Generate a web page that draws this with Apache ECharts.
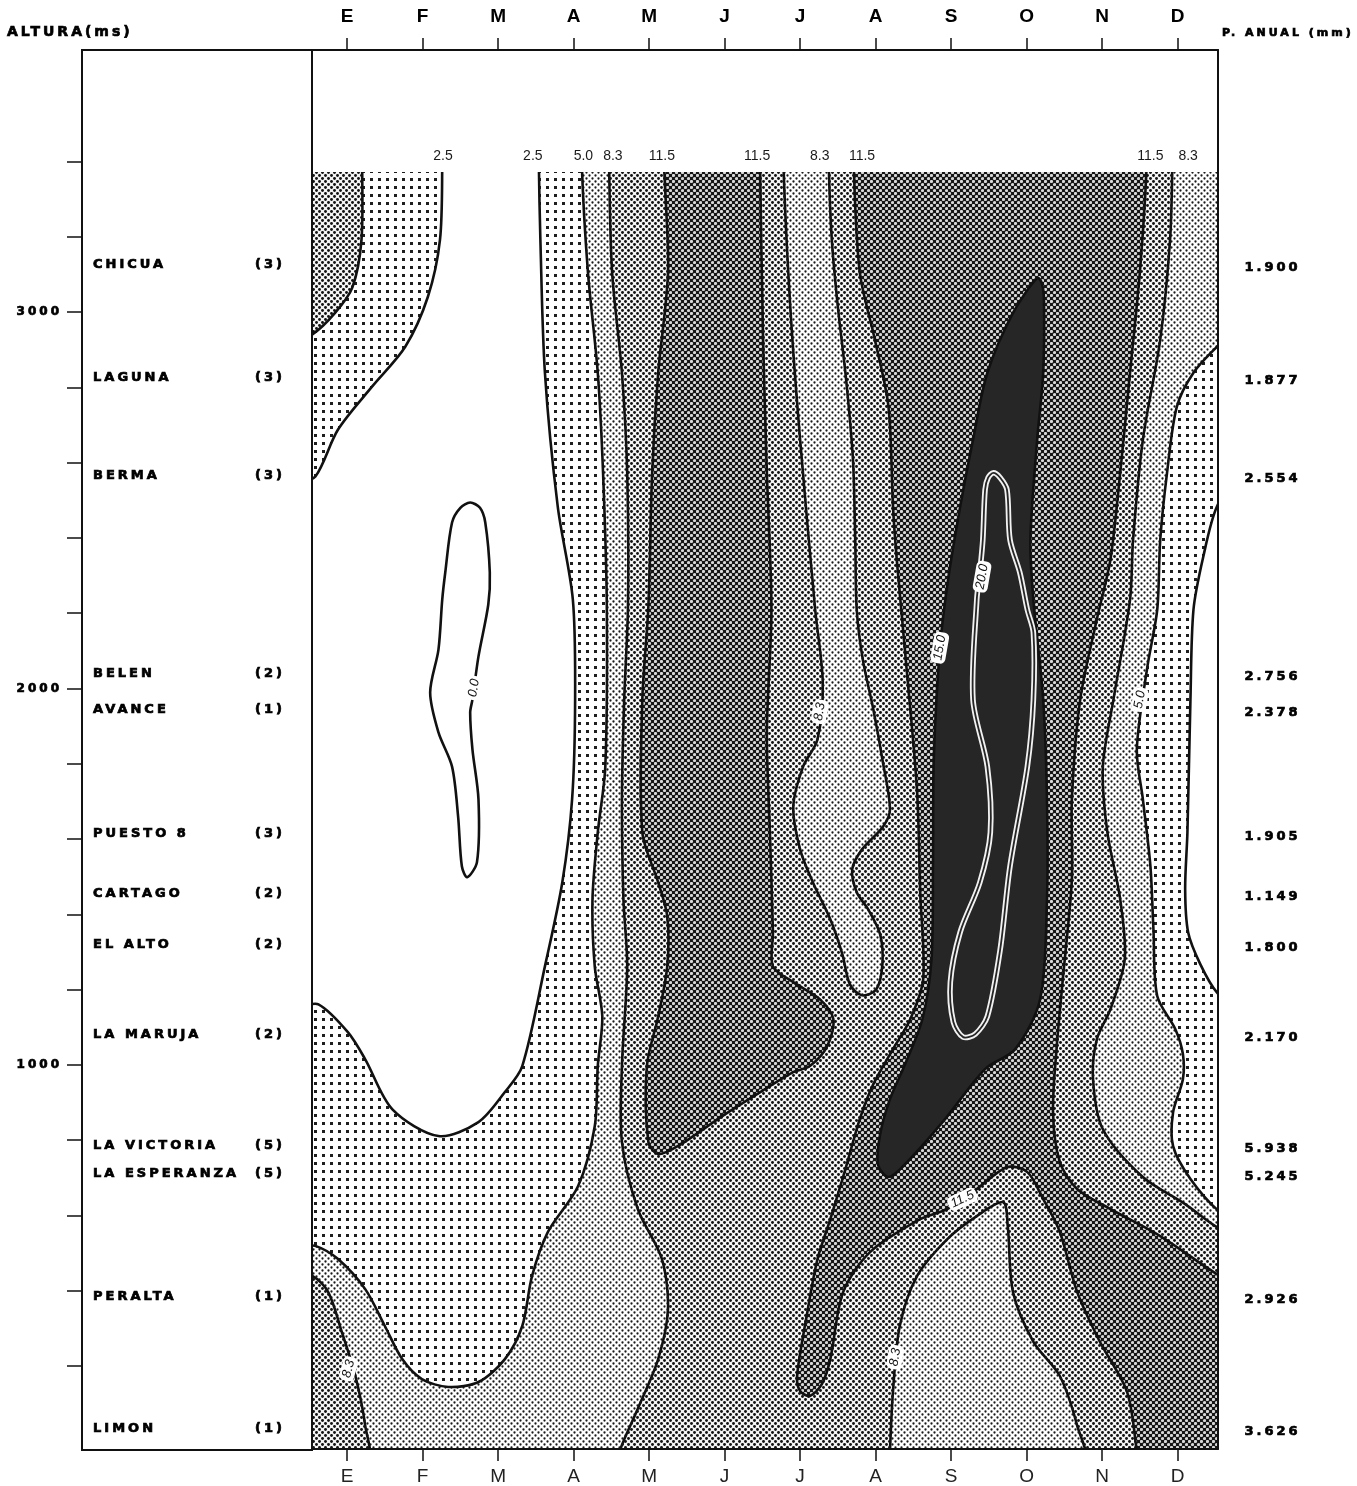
<!DOCTYPE html>
<html>
<head>
<meta charset="utf-8">
<title>Precipitación media mensual por altura</title>
<script src="https://cdn.jsdelivr.net/npm/echarts@6.0.0/dist/echarts.min.js"></script>
<style>
	html, body { margin: 0; padding: 0; background: #ffffff; }
	#chart { width: 1357px; height: 1486px; }
</style>
</head>
<body>
<div id="chart"></div>
<script>
//Axis labels
let months = ['E', 'F', 'M', 'A', 'M', 'J', 'J', 'A', 'S', 'O', 'N', 'D'];
let monthTicks = [0, 1, 2, 3, 4, 5, 6, 7, 8, 9, 10, 11];
let altitudeTicks = [200, 400, 600, 800, 1000, 1200, 1400, 1600, 1800, 2000, 2200, 2400, 2600, 2800, 3000, 3200, 3400];
let altitudeLabels = [1000, 2000, 3000];

//Stations (left panel) and annual rainfall (right column)
let stations = ['CHICUA', 'LAGUNA', 'BERMA', 'BELEN', 'AVANCE', 'PUESTO 8', 'CARTAGO', 'EL ALTO', 'LA MARUJA', 'LA VICTORIA', 'LA ESPERANZA', 'PERALTA', 'LIMON'];
let stationCounts = ['(3)', '(3)', '(3)', '(2)', '(1)', '(3)', '(2)', '(2)', '(2)', '(5)', '(5)', '(1)', '(1)'];
let stationAlt = [3125, 2825, 2565, 2040, 1945, 1615, 1455, 1320, 1080, 785, 710, 385, 35];
let annualRain = ['1.900', '1.877', '2.554', '2.756', '2.378', '1.905', '1.149', '1.800', '2.170', '5.938', '5.245', '2.926', '3.626'];

//Isoline values written along the top of the field
let topLabelText = ['2.5', '2.5', '5.0', '8.3', '11.5', '11.5', '8.3', '11.5', '11.5', '8.3'];
let topLabelMonth = [1.27, 2.46, 3.13, 3.52, 4.17, 5.43, 6.26, 6.82, 10.64, 11.14];
let topLabelAlt = 3414;

//Isoline values written inside the field
let contourText = ['0.0', '8.3', '15.0', '20.0', '5.0', '11.5', '8.3', '8.3'];
let contourMonth = [1.68, 6.26, 7.85, 8.41, 10.50, 8.15, 7.26, 0.02];
let contourAlt = [2000, 1937, 2107, 2296, 1969, 641, 221, 190];
let contourAngle = [80, 80, 80, 80, 80, 25, 80, 75];

//Top of the measured field (m)
let fieldTop = 3372;

//Isoline regions, [month, altitude] pairs
let field = [[-0.7, -60], [11.8, -60], [11.8, 3650], [-0.7, 3650]];
let band25Left = [[-0.7, 3650], [3.11, 3650], [3.11, 3390], [3.19, 3105], [3.32, 2838], [3.39, 2572], [3.44, 2216], [3.42, 1791], [3.32, 1616], [3.25, 1438], [3.28, 1260], [3.38, 1127], [3.32, 995], [3.28, 835], [3.06, 676], [2.66, 554], [2.45, 437], [2.32, 304], [2.09, 216], [1.74, 155], [1.34, 142], [0.99, 163], [0.73, 216], [0.50, 304], [0.24, 402], [-0.12, 482], [-0.42, 517], [-0.7, 522]];
let dryLeft = [[1.26, 3650], [1.26, 3390], [1.23, 3191], [1.07, 3040], [0.77, 2907], [0.33, 2801], [-0.12, 2687], [-0.42, 2562], [-0.7, 2530], [-0.7, 1160], [-0.38, 1159], [0.01, 1085], [0.24, 1013], [0.60, 880], [1.21, 809], [1.74, 846], [2.09, 926], [2.32, 995], [2.62, 1260], [2.85, 1483], [2.98, 1704], [3.02, 1969], [2.99, 2235], [2.79, 2482], [2.62, 2838], [2.56, 3191], [2.54, 3390], [2.53, 3650]];
let cornerTopLeft = [[-0.7, 3650], [0.20, 3650], [0.20, 3390], [0.19, 3190], [0.07, 3065], [-0.16, 2997], [-0.46, 2940], [-0.7, 2925]];
let band25Right = [[11.8, 2960], [11.52, 2907], [11.21, 2838], [10.99, 2748], [10.86, 2572], [10.77, 2394], [10.73, 2208], [10.60, 2057], [10.46, 1837], [10.54, 1704], [10.64, 1526], [10.68, 1358], [10.73, 1181], [10.97, 1093], [11.07, 1027], [11.07, 960], [10.94, 872], [10.94, 782], [11.17, 695], [11.56, 607], [11.8, 590]];
let dryRight = [[11.8, 2560], [11.52, 2482], [11.34, 2349], [11.21, 2208], [11.17, 1969], [11.13, 1616], [11.10, 1465], [11.14, 1350], [11.30, 1266], [11.52, 1191], [11.8, 1150]];
let band83 = [[3.46, 3650], [3.47, 3390], [3.51, 3105], [3.64, 2838], [3.71, 2572], [3.72, 2216], [3.67, 1969], [3.64, 1704], [3.66, 1438], [3.71, 1260], [3.64, 995], [3.64, 793], [3.85, 615], [4.17, 482], [4.25, 349], [4.12, 216], [3.85, 84], [3.62, -23], [3.60, -60], [11.8, -60], [11.8, 550], [11.56, 562], [11.10, 628], [10.54, 700], [10.01, 827], [9.88, 960], [9.93, 1066], [10.11, 1146], [10.30, 1279], [10.24, 1438], [10.07, 1616], [10.01, 1791], [10.15, 1969], [10.37, 2235], [10.41, 2394], [10.54, 2660], [10.77, 2926], [10.90, 3191], [10.93, 3390], [10.94, 3650]];
let cornerBottomLeft = [[-0.7, 440], [-0.46, 437], [-0.25, 394], [-0.07, 288], [0.11, 171], [0.24, 39], [0.27, -60], [-0.7, -60]];
let tongue = [[5.77, 3650], [5.78, 3390], [5.87, 3013], [6.00, 2660], [6.20, 2208], [6.30, 2015], [6.23, 1863], [6.04, 1791], [5.91, 1685], [6.00, 1571], [6.17, 1483], [6.40, 1385], [6.56, 1292], [6.66, 1212], [6.82, 1183], [7.01, 1199], [7.09, 1266], [7.06, 1345], [6.90, 1412], [6.75, 1457], [6.69, 1518], [6.82, 1571], [7.10, 1632], [7.19, 1677], [7.09, 1810], [6.97, 1943], [6.83, 2076], [6.75, 2208], [6.73, 2394], [6.70, 2607], [6.61, 2819], [6.50, 3013], [6.42, 3191], [6.38, 3390], [6.37, 3650]];
let wetLeft = [[4.19, 3650], [4.20, 3390], [4.25, 3105], [4.12, 2838], [4.04, 2572], [3.99, 2216], [3.91, 1969], [3.91, 1616], [4.12, 1483], [4.24, 1393], [4.24, 1260], [4.12, 1127], [3.97, 995], [3.99, 793], [4.12, 761], [4.38, 782], [4.97, 862], [5.54, 934], [5.91, 979], [6.13, 995], [6.36, 1048], [6.44, 1120], [6.26, 1173], [5.91, 1218], [5.64, 1260], [5.64, 1351], [5.60, 1616], [5.56, 1882], [5.62, 2208], [5.56, 2572], [5.51, 2926], [5.47, 3390], [5.46, 3650]];
let wetMain = [[6.70, 3650], [6.71, 3390], [6.79, 3105], [6.99, 2926], [7.17, 2748], [7.23, 2482], [7.28, 2341], [7.42, 2030], [7.55, 1722], [7.59, 1457], [7.63, 1226], [7.46, 1120], [7.23, 1040], [6.97, 947], [6.79, 854], [6.60, 721], [6.40, 588], [6.23, 482], [6.08, 323], [5.96, 171], [6.00, 131], [6.13, 118], [6.29, 150], [6.40, 216], [6.57, 394], [6.93, 501], [7.59, 588], [7.95, 615], [8.34, 668], [8.74, 726], [9.01, 713], [9.22, 641], [9.44, 554], [9.67, 394], [9.97, 262], [10.33, 129], [10.46, -30], [10.47, -60], [11.8, -60], [11.8, 420], [11.56, 437], [10.77, 543], [10.11, 615], [9.67, 668], [9.44, 740], [9.35, 872], [9.40, 1048], [9.48, 1226], [9.60, 1491], [9.60, 1704], [9.71, 1969], [9.93, 2182], [10.11, 2341], [10.24, 2572], [10.37, 2838], [10.50, 3105], [10.59, 3390], [10.60, 3650]];
let mountain = [[7.19, -60], [7.19, -30], [7.23, 129], [7.32, 304], [7.55, 437], [7.95, 535], [8.34, 596], [8.69, 633], [8.75, 570], [8.82, 394], [9.09, 262], [9.44, 171], [9.67, 39], [9.75, -60]];
let wettest = [[9.14, 3090], [8.82, 2997], [8.48, 2838], [8.29, 2660], [8.12, 2482], [7.96, 2288], [7.85, 2102], [7.77, 1810], [7.76, 1544], [7.74, 1279], [7.62, 1120], [7.39, 1000], [7.19, 907], [7.06, 814], [7.03, 734], [7.17, 700], [7.39, 734], [7.92, 854], [8.45, 987], [8.85, 1040], [9.18, 1173], [9.27, 1438], [9.27, 1704], [9.22, 1969], [9.09, 2235], [9.05, 2394], [9.14, 2660], [9.22, 2838], [9.23, 3032], [9.20, 3077]];
let iso20 = [[8.56, 2572], [8.65, 2559], [8.74, 2527], [8.78, 2394], [8.91, 2307], [9.01, 2208], [9.09, 2147], [9.09, 1969], [9.01, 1791], [8.78, 1526], [8.65, 1305], [8.48, 1127], [8.32, 1080], [8.16, 1072], [8.03, 1112], [7.99, 1218], [8.12, 1351], [8.38, 1483], [8.52, 1616], [8.48, 1791], [8.29, 1969], [8.34, 2235], [8.38, 2307], [8.42, 2394], [8.45, 2527], [8.49, 2559]];
let iso0 = [[1.63, 2493], [1.76, 2479], [1.83, 2440], [1.89, 2307], [1.87, 2222], [1.74, 2084], [1.66, 1969], [1.63, 1935], [1.66, 1837], [1.74, 1704], [1.72, 1537], [1.59, 1497], [1.52, 1526], [1.47, 1659], [1.39, 1791], [1.21, 1882], [1.10, 1988], [1.21, 2102], [1.26, 2235], [1.30, 2307], [1.39, 2440], [1.50, 2479]];
let aboveField = [[-0.7, fieldTop], [11.8, fieldTop], [11.8, 3800], [-0.7, 3800]];


//Spaced lettering for the DejaVu texts (station columns and headers)
let baseFillText = CanvasRenderingContext2D.prototype.fillText;
let baseStrokeText = CanvasRenderingContext2D.prototype.strokeText;
let baseMeasureText = CanvasRenderingContext2D.prototype.measureText;
function spacingFor(font) {
	return font && font.indexOf('DejaVu') >= 0 ? '3px' : '0px';
}
CanvasRenderingContext2D.prototype.fillText = function (text, x, y, maxWidth) {
	this.letterSpacing = spacingFor(this.font);
	if (maxWidth === undefined) {
		return baseFillText.call(this, text, x, y);
	}
	return baseFillText.call(this, text, x, y, maxWidth);
};
CanvasRenderingContext2D.prototype.strokeText = function (text, x, y, maxWidth) {
	this.letterSpacing = spacingFor(this.font);
	if (maxWidth === undefined) {
		return baseStrokeText.call(this, text, x, y);
	}
	return baseStrokeText.call(this, text, x, y, maxWidth);
};
CanvasRenderingContext2D.prototype.measureText = function (text) {
	this.letterSpacing = spacingFor(this.font);
	return baseMeasureText.call(this, text);
};

//Halftone screens
function dotPattern(bg, dot, size, r, square) {
	let c = document.createElement('canvas');
	c.width = size;
	c.height = size;
	let cx = c.getContext('2d');
	cx.fillStyle = bg;
	cx.fillRect(0, 0, size, size);
	cx.fillStyle = dot;
	if (square) {
		cx.fillRect(2, 2, r, r);
	} else {
		cx.beginPath();
		cx.arc(size / 4, size / 4, r, 0, Math.PI * 2);
		cx.fill();
		cx.beginPath();
		cx.arc(size * 3 / 4, size * 3 / 4, r, 0, Math.PI * 2);
		cx.fill();
	}
	return { image: c, repeat: 'repeat' };
}

let fills = {
	white: '#ffffff',
	d1: dotPattern('#ffffff', '#1e1e1e', 8, 3, true),
	d2: dotPattern('#ffffff', '#1a1a1a', 6, 1.15),
	d3: dotPattern('#f4f4f4', '#111111', 6, 1.45),
	d4: dotPattern('#151515', '#d8d8d8', 6, 1.6),
	d5: '#262626'
};

// Painted in order, later layers cover earlier ones
let layers = [
	{ points: field, band: 'd2', kind: 'plain' },
	{ points: band25Left, band: 'd1', kind: 'area' },
	{ points: band25Right, band: 'd1', kind: 'area' },
	{ points: dryLeft, band: 'white', kind: 'area' },
	{ points: dryRight, band: 'white', kind: 'area' },
	{ points: cornerTopLeft, band: 'd3', kind: 'area' },
	{ points: band83, band: 'd3', kind: 'area' },
	{ points: cornerBottomLeft, band: 'd3', kind: 'area' },
	{ points: tongue, band: 'd2', kind: 'area' },
	{ points: wetLeft, band: 'd4', kind: 'area' },
	{ points: wetMain, band: 'd4', kind: 'area' },
	{ points: mountain, band: 'd2', kind: 'area' },
	{ points: wettest, band: 'd5', kind: 'area' },
	{ points: iso0, band: null, kind: 'line' },
	{ points: iso20, band: null, kind: 'double' },
	{ points: aboveField, band: 'white', kind: 'plain' }
];

let contourWidth = 2.6;

function renderLayer(params, api) {
	let layer = layers[params.dataIndex];
	let points = layer.points.map(function (p) {
		return api.coord(p);
	});
	if (layer.kind == 'plain') {
		return { type: 'polygon', shape: { points: points }, style: { fill: fills[layer.band], stroke: null } };
	}
	if (layer.kind == 'line') {
		return { type: 'polygon', shape: { points: points, smooth: 0.3 }, style: { fill: 'none', stroke: '#111111', lineWidth: contourWidth } };
	}
	if (layer.kind == 'double') {
		return {
			type: 'group',
			children: [
				{ type: 'polygon', shape: { points: points, smooth: 0.3 }, style: { fill: 'none', stroke: '#f2f2f2', lineWidth: 5.5 } },
				{ type: 'polygon', shape: { points: points, smooth: 0.3 }, style: { fill: 'none', stroke: '#262626', lineWidth: 1.8 } }
			]
		};
	}
	return { type: 'polygon', shape: { points: points, smooth: 0.3 }, style: { fill: fills[layer.band], stroke: '#111111', lineWidth: contourWidth } };
}

let frameLine = { show: true, onZero: false, lineStyle: { color: '#111111', width: 2 } };
let wideFont = 'DejaVu Sans';
let plainFont = 'Liberation Sans';
let solid = { opacity: 1 };
//heavy lettering of the station columns
let heavyText = { fontFamily: wideFont, fontWeight: 'bold', color: '#000000', textBorderColor: '#000000', textBorderWidth: 0.7 };

let option = {
	animation: false,
	backgroundColor: '#ffffff',
	title: [
		{ text: 'ALTURA(ms)', left: 7, top: 24, padding: 0, textStyle: Object.assign({ fontSize: 14 }, heavyText) },
		{ text: 'P. ANUAL (mm)', left: 1222, top: 26, padding: 0, textStyle: Object.assign({ fontSize: 11 }, heavyText) }
	],
	grid: [
		{ left: 312, top: 50, width: 906, height: 1400 },
		{ left: 82, top: 50, width: 230, height: 1400, show: true, borderColor: '#111111', borderWidth: 2 },
		{ left: 1218, top: 50, width: 139, height: 1400 }
	],
	xAxis: [
		{
			gridIndex: 0, type: 'value', position: 'top', min: -0.465, max: 11.535, z: 10,
			axisLine: frameLine,
			axisTick: { show: true, customValues: monthTicks, length: 12, lineStyle: { color: '#111111', width: 1.5 } },
			axisLabel: {
				show: true, customValues: monthTicks, margin: 24,
				formatter: function (v) { return months[Math.round(v)]; },
				fontFamily: plainFont, fontWeight: 'bold', fontSize: 19, color: '#000000'
			},
			splitLine: { show: false }
		},
		{
			gridIndex: 0, type: 'value', position: 'bottom', min: -0.465, max: 11.535, z: 10,
			axisLine: frameLine,
			axisTick: { show: true, customValues: monthTicks, length: 12, lineStyle: { color: '#111111', width: 1.5 } },
			axisLabel: {
				show: true, customValues: monthTicks, margin: 18,
				formatter: function (v) { return months[Math.round(v)]; },
				fontFamily: plainFont, fontSize: 19, color: '#222222'
			},
			splitLine: { show: false }
		},
		{ gridIndex: 1, type: 'value', min: 0, max: 1, show: false },
		{ gridIndex: 2, type: 'value', min: 0, max: 1, show: false }
	],
	yAxis: [
		{
			gridIndex: 0, type: 'value', position: 'left', min: -23, max: 3696, z: 10,
			axisLine: frameLine, axisTick: { show: false }, axisLabel: { show: false }, splitLine: { show: false }
		},
		{
			gridIndex: 0, type: 'value', position: 'right', min: -23, max: 3696, z: 10,
			axisLine: frameLine, axisTick: { show: false }, axisLabel: { show: false }, splitLine: { show: false }
		},
		{
			gridIndex: 1, type: 'value', position: 'left', min: -23, max: 3696,
			axisLine: frameLine,
			axisTick: { show: true, customValues: altitudeTicks, length: 15, lineStyle: { color: '#111111', width: 1.5 } },
			axisLabel: Object.assign({
				show: true, customValues: altitudeLabels, margin: 20, fontSize: 12,
				formatter: function (v) { return String(v); }
			}, heavyText),
			splitLine: { show: false }
		},
		{ gridIndex: 2, type: 'value', min: -23, max: 3696, show: false }
	],
	series: [
		{
			type: 'custom',
			xAxisIndex: 0,
			yAxisIndex: 0,
			clip: true,
			silent: true,
			z: 2,
			renderItem: renderLayer,
			data: layers.map(function (l) { return l.points[0]; })
		},
		{
			type: 'scatter',
			xAxisIndex: 0,
			yAxisIndex: 0,
			symbolSize: 0,
			silent: true,
			z: 5,
			itemStyle: solid,
			data: topLabelText.map(function (t, i) { return { name: t, value: [topLabelMonth[i], topLabelAlt] }; }),
			label: { show: true, opacity: 1, position: 'inside', formatter: '{b}', fontFamily: plainFont, fontSize: 14, color: '#1a1a1a' }
		},
		{
			type: 'scatter',
			xAxisIndex: 0,
			yAxisIndex: 0,
			symbolSize: 0,
			silent: true,
			z: 6,
			itemStyle: solid,
			data: contourText.map(function (t, i) {
				return { name: t, value: [contourMonth[i], contourAlt[i]], label: { rotate: contourAngle[i] } };
			}),
			label: {
				show: true, opacity: 1, position: 'inside', formatter: '{b}',
				fontFamily: plainFont, fontStyle: 'italic', fontSize: 13, color: '#111111',
				backgroundColor: '#ffffff', padding: [1, 3], borderRadius: 5
			}
		},
		{
			type: 'scatter',
			xAxisIndex: 2,
			yAxisIndex: 2,
			symbolSize: 0,
			silent: true,
			itemStyle: solid,
			data: stations.map(function (s, i) { return { name: s, value: [0.048, stationAlt[i]] }; }),
			label: Object.assign({ show: true, opacity: 1, position: 'right', distance: 0, formatter: '{b}', fontSize: 13 }, heavyText)
		},
		{
			type: 'scatter',
			xAxisIndex: 2,
			yAxisIndex: 2,
			symbolSize: 0,
			silent: true,
			itemStyle: solid,
			data: stationCounts.map(function (s, i) { return { name: s, value: [0.752, stationAlt[i]] }; }),
			label: Object.assign({ show: true, opacity: 1, position: 'right', distance: 0, formatter: '{b}', fontSize: 13 }, heavyText)
		},
		{
			type: 'scatter',
			xAxisIndex: 3,
			yAxisIndex: 3,
			symbolSize: 0,
			silent: true,
			itemStyle: solid,
			data: annualRain.map(function (s, i) { return { name: s, value: [0.19, stationAlt[i]] }; }),
			label: Object.assign({ show: true, opacity: 1, position: 'right', distance: 0, offset: [0, 3], formatter: '{b}', fontSize: 13 }, heavyText)
		}
	]
};

window.onload = function () {
	let chart = echarts.init(document.getElementById('chart'));
	chart.setOption(option);
};
</script>
</body>
</html>
